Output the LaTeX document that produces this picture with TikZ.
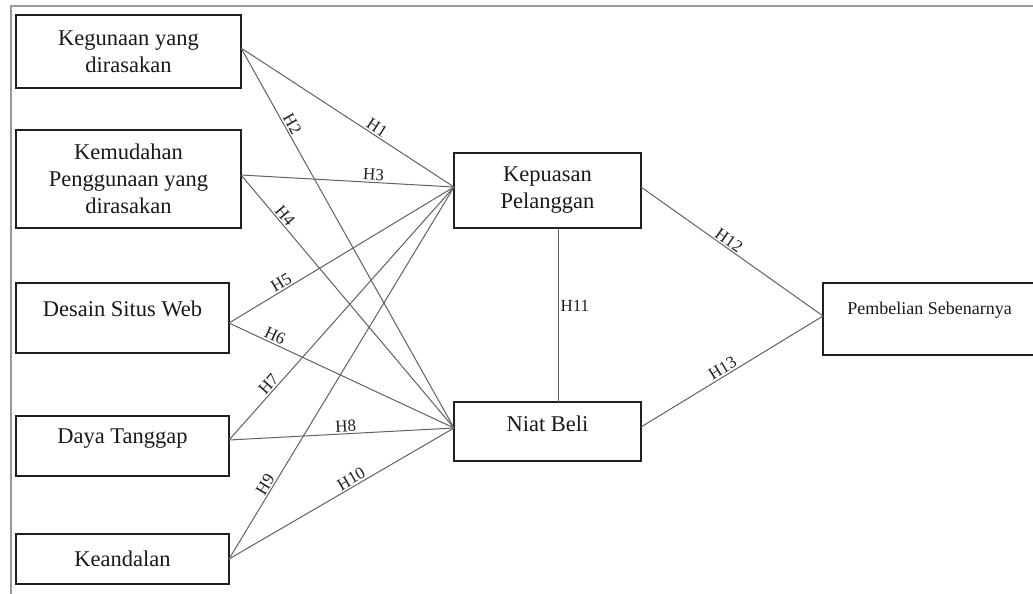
\documentclass[tikz,border=0pt]{standalone}
\usepackage{fontspec}
\setmainfont{Liberation Serif}
\usetikzlibrary{calc}
\begin{document}
\begin{tikzpicture}[x=1pt,y=-1pt,
  box/.style={draw=black!88, line width=2.2pt, inner sep=0pt, outer sep=0pt},
  boxtext/.style={font=\fontsize{22.5}{27}\selectfont, align=center, text=black!90, inner sep=0pt},
  smalltext/.style={font=\fontsize{18}{22}\selectfont, text=black!90, inner sep=0pt},
  hyp/.style={draw=black!62, line width=1pt},
  hlab/.style={font=\fontsize{17}{17}\selectfont, sloped, above, inner sep=1.5pt, text=black!88},
  frame/.style={draw=black!40, line width=1.8pt}]
\useasboundingbox (0,0) rectangle (1033,594);
% frame
\coordinate (fA) at (11,600);
\coordinate (fB) at (11,6);
\coordinate (fC) at (1040,6);
\draw[frame] (fA) -- (fB) -- (fC);
% left boxes
\node[box, minimum width=225pt, minimum height=73pt, boxtext] (b1) at (128.5,51.5) {Kegunaan yang\\dirasakan};
\node[box, minimum width=225pt, minimum height=98pt, boxtext] (b2) at (128.5,179) {Kemudahan\\Penggunaan yang\\dirasakan};
\node[box, minimum width=213pt, minimum height=70pt] (b3) at (122.5,318) {};
\node[boxtext] (t3) at ($(b3.center)+(0,-9)$) {Desain Situs Web};
\node[box, minimum width=213pt, minimum height=60pt] (b4) at (122.5,446) {};
\node[boxtext] (t4) at ($(b4.center)+(0,-7)$) {Daya Tanggap};
\node[box, minimum width=213pt, minimum height=50pt, boxtext] (b5) at (122.5,559) {Keandalan};
% middle boxes
\node[box, minimum width=187pt, minimum height=75pt, boxtext] (kp) at (547.5,190.5) {Kepuasan\\Pelanggan};
\node[box, minimum width=187pt, minimum height=59pt] (nb) at (547.5,431.5) {};
\node[boxtext] (tnb) at ($(nb.center)+(0,-8)$) {Niat Beli};
% right box
\node[box, minimum width=217pt, minimum height=72pt] (pb) at (931.5,319) {};
\node[smalltext] (tpb) at (929.5,310) {Pembelian Sebenarnya};
% connector end points
\coordinate (b1o) at ($(b1.east)+(0,-3.5)$);
\coordinate (b2o) at ($(b2.east)+(0,-4)$);
\coordinate (b3o) at ($(b3.east)+(0,5)$);
\coordinate (b4o) at ($(b4.east)+(0,-6)$);
\coordinate (b5o) at (b5.east);
\coordinate (kpi) at ($(kp.west)+(0,-3.5)$);
\coordinate (nbi) at ($(nb.west)+(0,-3.5)$);
\coordinate (kpo) at ($(kp.east)+(0,-3.5)$);
\coordinate (nbo) at ($(nb.east)+(0,-4.5)$);
\coordinate (pbi) at ($(pb.west)+(0,-3)$);
\coordinate (kps) at ($(kp.south)+(10.5,0)$);
\coordinate (nbn) at ($(nb.north)+(10.5,0)$);
% connectors
\draw[hyp] (b1o) -- node[hlab,pos=0.62]{H1} (kpi);
\draw[hyp] (b1o) -- node[hlab,pos=0.21]{H2} (nbi);
\draw[hyp] (b2o) -- node[hlab,pos=0.62]{H3} (kpi);
\draw[hyp] (b2o) -- node[hlab,pos=0.18]{H4} (nbi);
\draw[hyp] (b3o) -- node[hlab,pos=0.25]{H5} (kpi);
\draw[hyp] (b3o) -- node[hlab,pos=0.19]{H6} (nbi);
\draw[hyp] (b4o) -- node[hlab,pos=0.20]{H7} (kpi);
\draw[hyp] (b4o) -- node[hlab,pos=0.52]{H8} (nbi);
\draw[hyp] (b5o) -- node[hlab,pos=0.19]{H9} (kpi);
\draw[hyp] (b5o) -- node[hlab,pos=0.56]{H10} (nbi);
\draw[hyp] (kps) -- node[right, pos=0.45, inner sep=2pt, font=\fontsize{17}{17}\selectfont, text=black!88]{H11} (nbn);
\draw[hyp] (kpo) -- node[hlab,pos=0.46]{H12} (pbi);
\draw[hyp] (nbo) -- node[hlab,pos=0.47]{H13} (pbi);
\end{tikzpicture}
\end{document}
